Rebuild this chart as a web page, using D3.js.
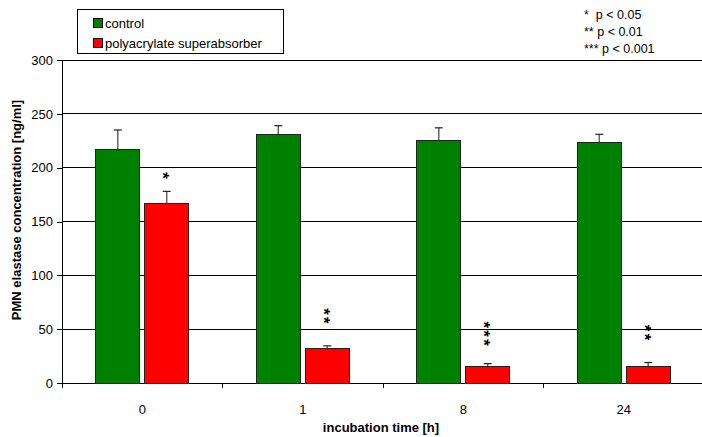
<!DOCTYPE html>
<html>
<head>
<meta charset="utf-8">
<script src="https://cdn.jsdelivr.net/npm/d3@7"></script>
<style>
  html, body { margin: 0; padding: 0; background: #fff; }
  svg { display: block; font-family: "Liberation Sans", Arial, sans-serif; }
</style>
</head>
<body>
<svg id="chart" width="702" height="437"></svg>
<script>
// Incubation time points (hours)
const categories = ["0", "1", "8", "24"];
// Mean PMN elastase concentration [ng/ml]
const controlValues = [217, 231, 225, 223];
const controlErrors = [18, 8, 12, 8];
const superabsorberValues = [167, 32, 15, 15];
const superabsorberErrors = [11, 2.5, 3, 4];
// Significance markers above the superabsorber bars
const significance = ["*", "**", "***", "**"];
const yTicks = [0, 50, 100, 150, 200, 250, 300];
const seriesNames = ["control", "polyacrylate superabsorber"];
const seriesColors = ["#008000", "#ff0000"];
const pLegend = ["*  p < 0.05", "** p < 0.01", "*** p < 0.001"];

const svg = d3.select("#chart");
const plotLeft = 62, plotRight = 704, plotTop = 60, plotBottom = 383;

const x = d3.scaleBand().domain(categories).range([plotLeft, plotRight]).paddingInner(0).paddingOuter(0);
const y = d3.scaleLinear().domain([0, 300]).range([plotBottom, plotTop]);

// grid lines
svg.append("g").selectAll("line").data(yTicks.filter(d => d > 0)).join("line")
  .attr("x1", plotLeft).attr("x2", plotRight)
  .attr("y1", d => y(d)).attr("y2", d => y(d))
  .attr("stroke", "#000").attr("stroke-width", 1).attr("shape-rendering", "crispEdges");

// y axis
const yAxis = svg.append("g").attr("transform", `translate(${plotLeft},0)`)
  .call(d3.axisLeft(y).tickValues(yTicks).tickSize(5).tickPadding(4).tickSizeOuter(0));
yAxis.select(".domain").attr("stroke", "#000").attr("shape-rendering", "crispEdges");
yAxis.selectAll(".tick line").attr("shape-rendering", "crispEdges");
yAxis.selectAll("text").attr("font-size", 13).attr("fill", "#000")
  .attr("font-family", "'Liberation Sans', Arial, sans-serif");

// x axis with ticks at category boundaries
const xAxisG = svg.append("g").attr("transform", `translate(0,${plotBottom})`);
xAxisG.append("line").attr("x1", plotLeft).attr("x2", plotRight).attr("y1", 0).attr("y2", 0)
  .attr("stroke", "#000").attr("shape-rendering", "crispEdges");
xAxisG.selectAll("line.tk").data(categories).join("line").attr("class", "tk")
  .attr("x1", d => x(d)).attr("x2", d => x(d)).attr("y1", 0).attr("y2", 5)
  .attr("stroke", "#000").attr("shape-rendering", "crispEdges");
xAxisG.selectAll("text").data(categories).join("text")
  .attr("x", d => x(d) + x.bandwidth() / 2).attr("y", 31)
  .attr("text-anchor", "middle").attr("font-size", 13).text(d => d);

// plot frame top edge
svg.append("line").attr("x1", plotLeft).attr("x2", plotRight).attr("y1", y(300)).attr("y2", y(300))
  .attr("stroke", "#000").attr("shape-rendering", "crispEdges");

// bars: inner band for the two series
const inner = d3.scaleBand().domain([0, 1]).range([0, x.bandwidth()]).paddingInner(0.1).paddingOuter(0.69);
const series = [
  { values: controlValues, errors: controlErrors },
  { values: superabsorberValues, errors: superabsorberErrors }
];

series.forEach((s, si) => {
  const g = svg.append("g");
  const data = categories.map((c, i) => ({ c, v: s.values[i], e: s.errors[i] }));
  const cx = d => x(d.c) + inner(si) + inner.bandwidth() / 2;
  // error bars
  g.selectAll("line.err").data(data).join("line").attr("class", "err")
    .attr("x1", cx).attr("x2", cx).attr("y1", d => y(d.v)).attr("y2", d => y(d.v + d.e))
    .attr("stroke", "#666").attr("stroke-width", 1.5);
  g.selectAll("line.cap").data(data).join("line").attr("class", "cap")
    .attr("x1", d => cx(d) - 4).attr("x2", d => cx(d) + 4)
    .attr("y1", d => y(d.v + d.e)).attr("y2", d => y(d.v + d.e))
    .attr("stroke", "#222").attr("stroke-width", 1.2);
  g.selectAll("rect").data(data).join("rect")
    .attr("x", d => x(d.c) + inner(si)).attr("width", inner.bandwidth())
    .attr("y", d => y(d.v)).attr("height", d => y(0) - y(d.v))
    .attr("fill", seriesColors[si]).attr("stroke", "#222").attr("stroke-width", 1)
    .attr("shape-rendering", "crispEdges");
});

// significance asterisks: vertical text stacked above the superabsorber error bars
const starSize = 17, starSpacing = 2.2;
categories.forEach((c, i) => {
  const cx = x(c) + inner(1) + inner.bandwidth() / 2;
  const n = significance[i].length;
  const errTop = y(superabsorberValues[i] + superabsorberErrors[i]);
  const centerY = errTop - (n === 1 ? 17 : 30);
  svg.append("text")
    .attr("transform", `translate(${cx - starSize * 0.57},${centerY + starSpacing / 2}) rotate(90)`)
    .attr("text-anchor", "middle")
    .attr("font-size", starSize).attr("font-weight", "bold")
    .attr("letter-spacing", n > 1 ? starSpacing : 0)
    .text(significance[i]);
});

// axis titles
svg.append("text").attr("x", (plotLeft + plotRight) / 2 - 2).attr("y", 432)
  .attr("text-anchor", "middle").attr("font-size", 13).attr("font-weight", "bold")
  .text("incubation time [h]");
svg.append("text").attr("transform", "translate(21,210) rotate(-90)")
  .attr("text-anchor", "middle").attr("font-size", 13).attr("font-weight", "bold")
  .text("PMN elastase concentration [ng/ml]");

// series legend
const lg = svg.append("g");
lg.append("rect").attr("x", 77.5).attr("y", 9.5).attr("width", 206).attr("height", 44)
  .attr("fill", "#fff").attr("stroke", "#000");
seriesNames.forEach((name, i) => {
  const yy = 18 + i * 20;
  lg.append("rect").attr("x", 93.5).attr("y", yy + 0.5).attr("width", 9).attr("height", 9)
    .attr("fill", seriesColors[i]).attr("stroke", "#000");
  lg.append("text").attr("x", 105).attr("y", yy + 10).attr("font-size", 13).text(name);
});

// p-value key
pLegend.forEach((t, i) => {
  svg.append("text").attr("x", 584).attr("y", 19 + i * 17).attr("font-size", 12.5)
    .attr("xml:space", "preserve").style("white-space", "pre").text(t);
});
</script>
</body>
</html>
